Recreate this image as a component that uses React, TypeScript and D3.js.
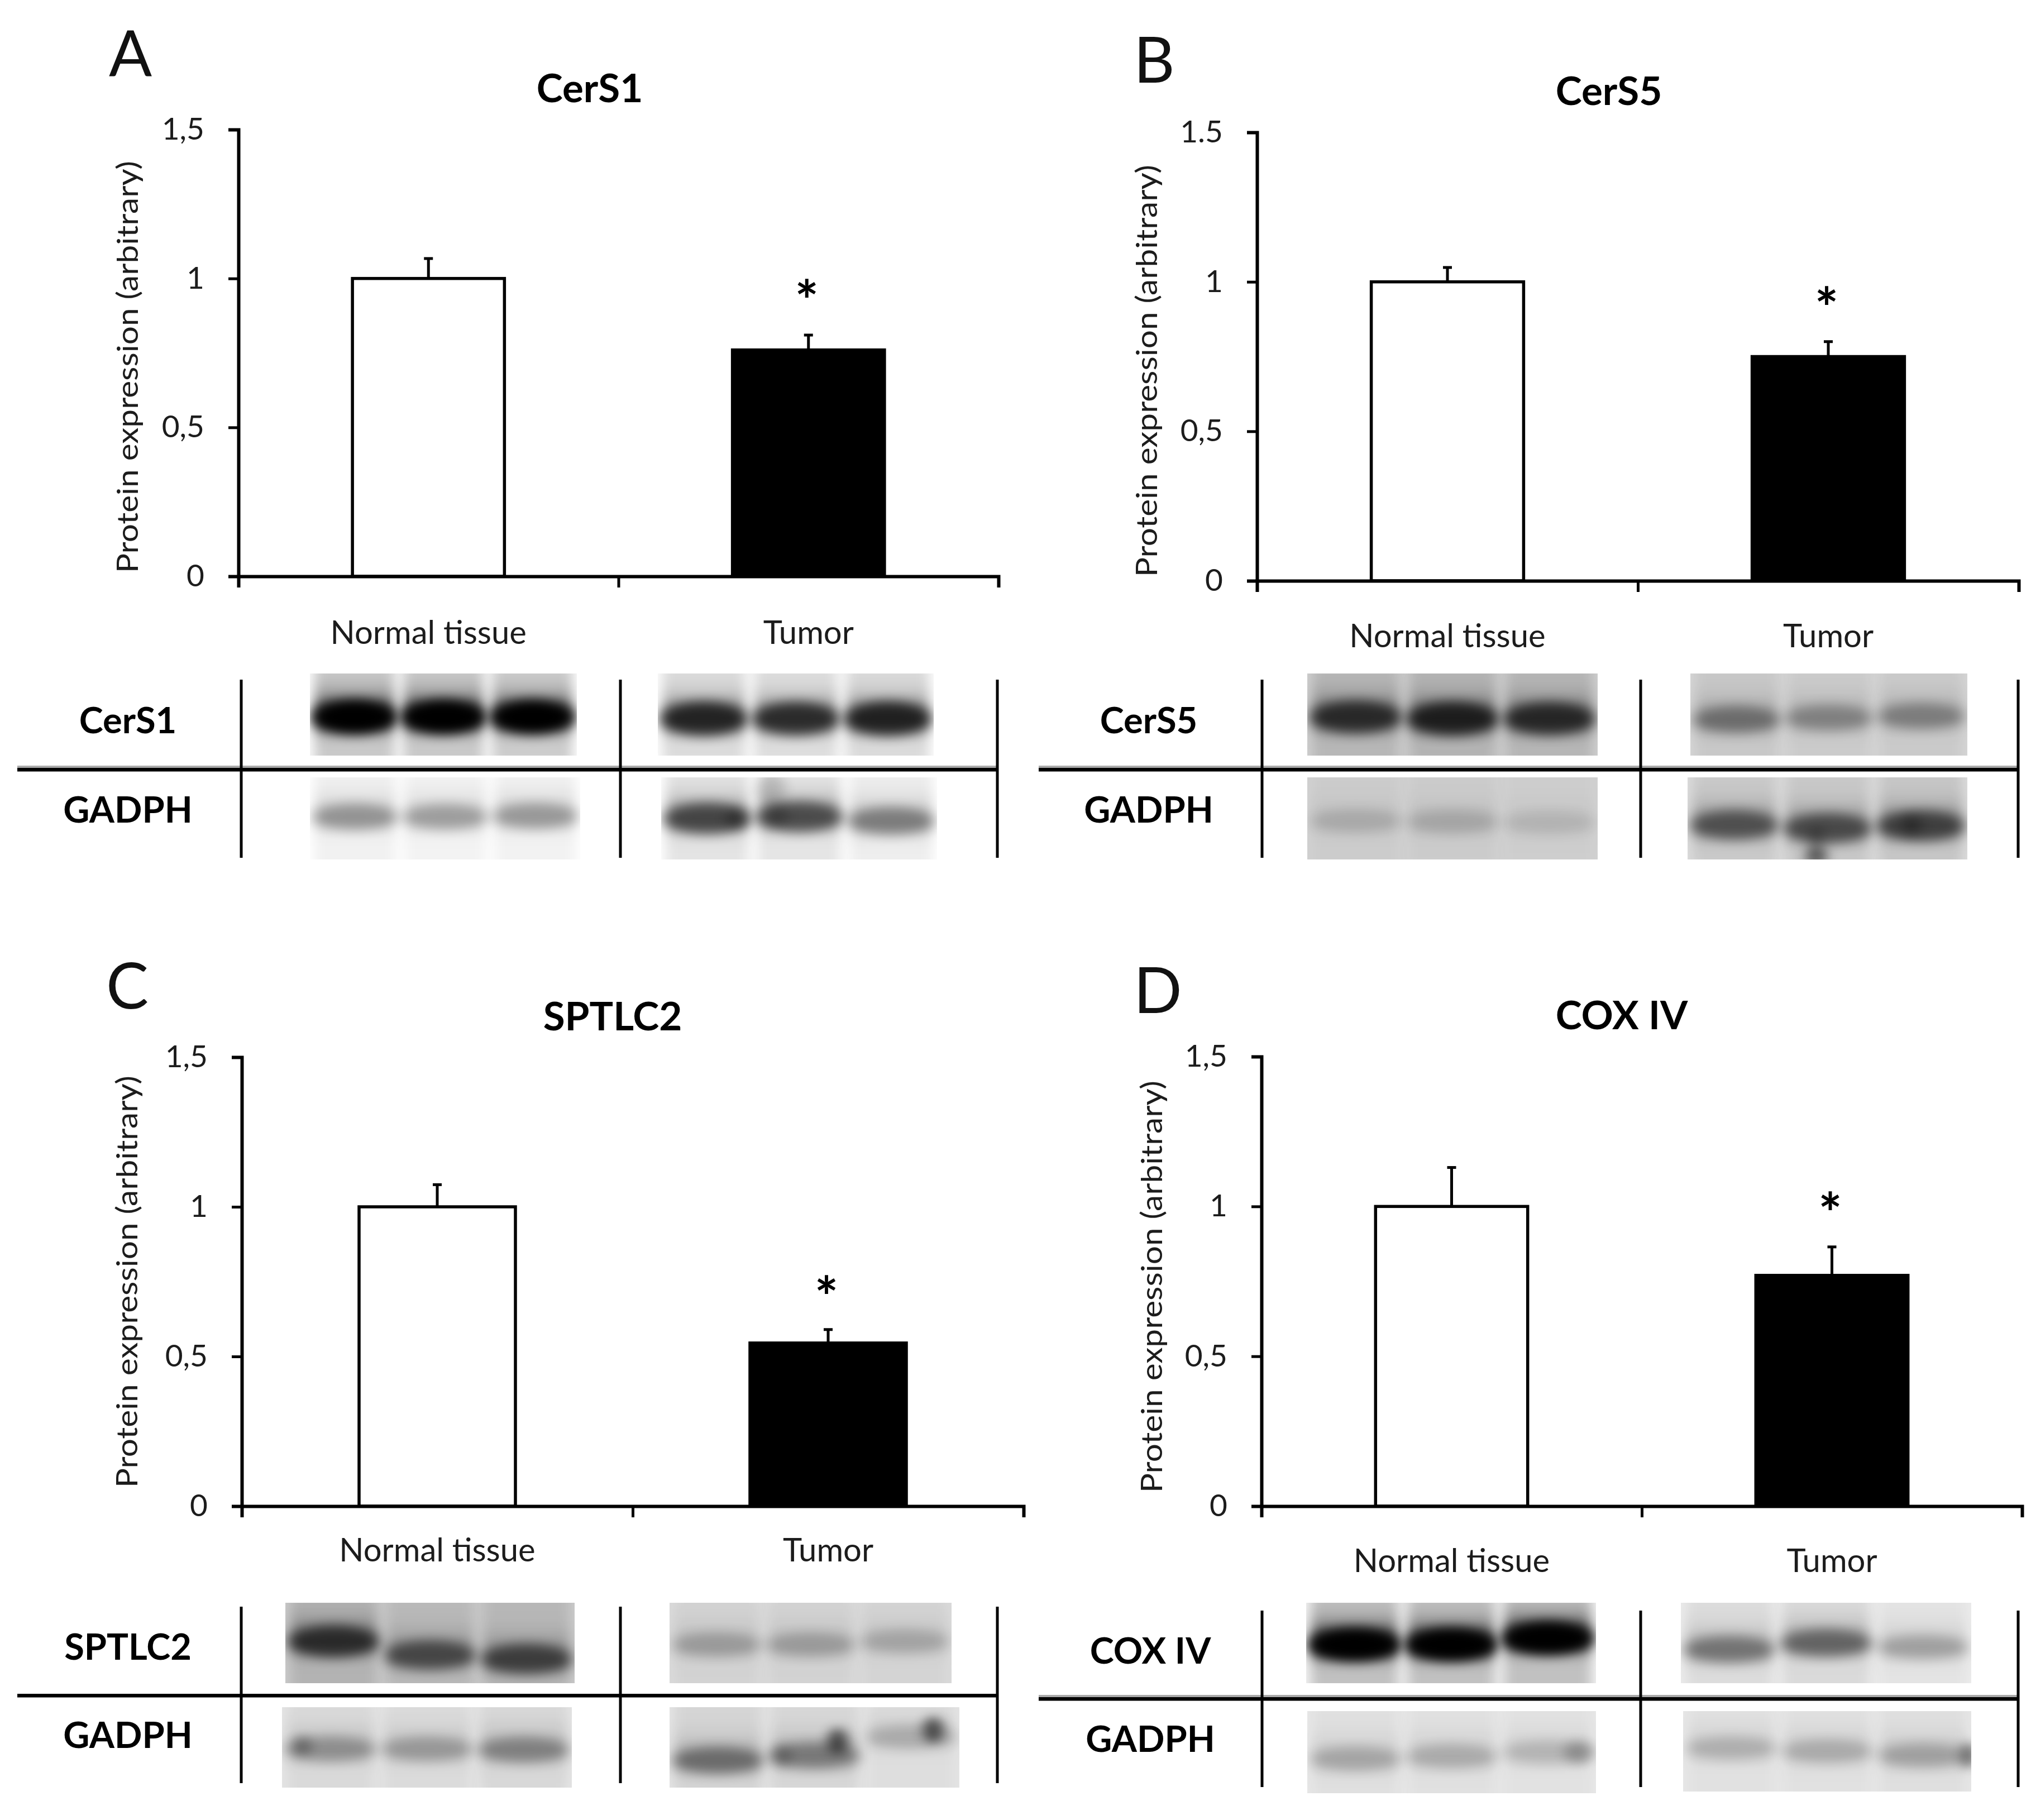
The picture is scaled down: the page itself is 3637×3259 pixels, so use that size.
import React from 'react';
import * as d3 from 'd3';

const svgWidth = 3637;
const svgHeight = 3259;
const fontFamily = 'Lato, Carlito, sans-serif';
const ink = '#1c1c1c';

const categories = ['Normal tissue', 'Tumor'];
const lanes = ['a', 'b', 'c'];
const yTickValues = [0, 0.5, 1, 1.5];

const cers1Values = [1, 0.76];
const cers1Errors = [0.067, 0.05];
const cers1Star = 0.966;
const cers5Values = [1, 0.75];
const cers5Errors = [0.048, 0.05];
const cers5Star = 0.953;
const sptlc2Values = [1, 0.545];
const sptlc2Errors = [0.074, 0.045];
const sptlc2Star = 0.739;
const coxValues = [1, 0.77];
const coxErrors = [0.13, 0.095];
const coxStar = 1.017;

const commaLabels = ['0', '0,5', '1', '1,5'];
const mixedLabels = ['0', '0,5', '1', '1.5'];

// blot readings, order: target normal, target tumor, GADPH normal, GADPH tumor
const cers1BandInk = [[1.5, 1.5, 1.4], [0.98, 0.92, 1], [0.38, 0.34, 0.36], [0.76, 0.72, 0.48]];
const cers1BandPos = [[0.53, 0.53, 0.53], [0.55, 0.55, 0.55], [0.48, 0.48, 0.47], [0.5, 0.48, 0.53]];
const cers1Haze = [0, 0, 0, 0];
const cers1Spots = [[], [], [], [[0.4, 0.14, 0.05, 0.2, 0.16], [0.27, 0.5, 0.035, 0.12, 0.3], [0.42, 0.47, 0.04, 0.12, 0.22]]];

const cers5BandInk = [[0.88, 0.98, 0.9], [0.46, 0.36, 0.38], [0.16, 0.18, 0.12], [0.64, 0.68, 0.74]];
const cers5BandPos = [[0.53, 0.55, 0.55], [0.56, 0.54, 0.52], [0.53, 0.54, 0.55], [0.58, 0.62, 0.59]];
const cers5Haze = [0.18, 0.16, 0.18, 0.13];
const cers5Spots = [[], [], [], [[0.46, 0.97, 0.04, 0.12, 0.5], [0.46, 0.78, 0.025, 0.2, 0.25], [0.8, 0.58, 0.035, 0.12, 0.3]]];

const sptlc2BandInk = [[0.86, 0.66, 0.72], [0.26, 0.26, 0.22], [0.34, 0.3, 0.4], [0.5, 0.44, 0.22]];
const sptlc2BandPos = [[0.48, 0.65, 0.7], [0.52, 0.52, 0.48], [0.52, 0.52, 0.53], [0.66, 0.6, 0.37]];
const sptlc2Haze = [0.2, 0.14, 0.1, 0.1];
const sptlc2Spots = [[], [], [[0.07, 0.48, 0.03, 0.12, 0.3]], [[0.58, 0.42, 0.035, 0.16, 0.6], [0.91, 0.28, 0.035, 0.16, 0.6], [0.39, 0.6, 0.03, 0.13, 0.22]]];

const coxBandInk = [[1.5, 1.5, 1.5], [0.48, 0.56, 0.28], [0.25, 0.23, 0.19], [0.21, 0.23, 0.27]];
const coxBandPos = [[0.52, 0.52, 0.44], [0.58, 0.5, 0.55], [0.58, 0.55, 0.5], [0.46, 0.5, 0.55]];
const coxHaze = [0.04, 0.07, 0.09, 0.09];
const coxSpots = [[], [], [[0.94, 0.5, 0.05, 0.14, 0.22]], [[0.99, 0.55, 0.025, 0.16, 0.5]]];

const panels = [
  {
    letter: 'A', letterX: 195, letterY: 136, title: 'CerS1', titleX: 1056, titleY: 183,
    values: cers1Values, errors: cers1Errors, star: cers1Star, tickLabels: commaLabels,
    left: 427, right: 1788, top: 232, bottom: 1032, axisLabelX: 229, axisLabelMid: 657, categoryY: 1153,
    rowLabels: ['CerS1', 'GADPH'], rowLabelX: 229, rowLabelY: [1313, 1473],
    ruleLeft: 31, ruleRight: 1786, ruleY: 1378, ruleShade: true,
    lineX: [432, 1111, 1786], lineTop: 1217, lineBottom: 1536,
    boxes: [[555, 1206, 1033, 1353], [1178, 1206, 1672, 1353], [555, 1392, 1039, 1539], [1184, 1392, 1678, 1539]],
    bandInk: cers1BandInk, bandPos: cers1BandPos, haze: cers1Haze, spots: cers1Spots,
  },
  {
    letter: 'B', letterX: 2030, letterY: 148, title: 'CerS5', titleX: 2881, titleY: 188,
    values: cers5Values, errors: cers5Errors, star: cers5Star, tickLabels: mixedLabels,
    left: 2251, right: 3615, top: 237, bottom: 1040, axisLabelX: 2054, axisLabelMid: 664, categoryY: 1159,
    rowLabels: ['CerS5', 'GADPH'], rowLabelX: 2057, rowLabelY: [1313, 1473],
    ruleLeft: 1860, ruleRight: 3614, ruleY: 1378, ruleShade: true,
    lineX: [2260, 2938, 3614], lineTop: 1217, lineBottom: 1536,
    boxes: [[2341, 1206, 2861, 1353], [3027, 1206, 3523, 1353], [2341, 1392, 2861, 1539], [3022, 1392, 3523, 1539]],
    bandInk: cers5BandInk, bandPos: cers5BandPos, haze: cers5Haze, spots: cers5Spots,
  },
  {
    letter: 'C', letterX: 190, letterY: 1806, title: 'SPTLC2', titleX: 1097, titleY: 1845,
    values: sptlc2Values, errors: sptlc2Errors, star: sptlc2Star, tickLabels: commaLabels,
    left: 433, right: 1833, top: 1893, bottom: 2697, axisLabelX: 228, axisLabelMid: 2295, categoryY: 2796,
    rowLabels: ['SPTLC2', 'GADPH'], rowLabelX: 229, rowLabelY: [2972, 3130],
    ruleLeft: 31, ruleRight: 1786, ruleY: 3036, ruleShade: false,
    lineX: [432, 1111, 1786], lineTop: 2877, lineBottom: 3193,
    boxes: [[511, 2870, 1029, 3014], [1199, 2870, 1704, 3014], [505, 3057, 1024, 3201], [1199, 3057, 1718, 3201]],
    bandInk: sptlc2BandInk, bandPos: sptlc2BandPos, haze: sptlc2Haze, spots: sptlc2Spots,
  },
  {
    letter: 'D', letterX: 2030, letterY: 1814, title: 'COX IV', titleX: 2904, titleY: 1843,
    values: coxValues, errors: coxErrors, star: coxStar, tickLabels: commaLabels,
    left: 2259, right: 3621, top: 1892, bottom: 2697, axisLabelX: 2063, axisLabelMid: 2304, categoryY: 2815,
    rowLabels: ['COX IV', 'GADPH'], rowLabelX: 2060, rowLabelY: [2979, 3137],
    ruleLeft: 1860, ruleRight: 3614, ruleY: 3042, ruleShade: true,
    lineX: [2260, 2938, 3614], lineTop: 2884, lineBottom: 3200,
    boxes: [[2339, 2870, 2858, 3014], [3010, 2870, 3530, 3014], [2341, 3064, 2858, 3211], [3014, 3064, 3530, 3208]],
    bandInk: coxBandInk, bandPos: coxBandPos, haze: coxHaze, spots: coxSpots,
  },
];

// smear of a lane on the membrane, peaks around the band and trails off both ways
function laneStops(pos: number, amount: number) {
  return d3.range(0, 1.001, 0.05).map((t) => {
    const spread = t < pos ? 0.2 : 0.13;
    const level = 0.14 + 0.35 * Math.exp(-((t - pos) ** 2) / (2 * spread * spread));
    return { offset: t, opacity: Math.min(1, level * amount) };
  });
}

function Blot({ id, box, bandInk, bandPos, haze, spots }: any) {
  const [x0, y0, x1, y1] = box;
  const laneX = d3.scaleBand().domain(lanes).range([x0, x1]).paddingInner(0.1).paddingOuter(0.05);
  const yPos = d3.scaleLinear().domain([0, 1]).range([y0, y1]);
  const xPos = d3.scaleLinear().domain([0, 1]).range([x0, x1]);
  const bw = laneX.bandwidth();
  const h = y1 - y0;

  return (
    <g clipPath={`url(#${id}-clip)`}>
      <defs>
        <clipPath id={`${id}-clip`}>
          <rect x={x0} y={y0} width={x1 - x0} height={h} />
        </clipPath>
        {lanes.map((lane, i) => (
          <linearGradient key={lane} id={`${id}-${lane}`} x1="0" y1="0" x2="0" y2="1">
            {laneStops(bandPos[i], bandInk[i]).map((s, j) => (
              <stop key={j} offset={s.offset} stopColor="#000" stopOpacity={s.opacity} />
            ))}
          </linearGradient>
        ))}
      </defs>
      <rect x={x0} y={y0} width={x1 - x0} height={h} fill="#000" opacity={haze} />
      {lanes.map((lane) => (
        <rect
          key={lane}
          x={laneX(lane)}
          y={y0}
          width={bw}
          height={h}
          fill={`url(#${id}-${lane})`}
          filter="url(#laneBlur)"
        />
      ))}
      {lanes.map((lane, i) => (
        <ellipse
          key={lane}
          cx={laneX(lane)! + bw / 2}
          cy={yPos(bandPos[i])}
          rx={bw * 0.52}
          ry={h * (0.13 + 0.08 * Math.min(1, bandInk[i]))}
          fill="#000"
          opacity={Math.min(1, bandInk[i] * 0.75)}
          filter="url(#coreBlur)"
        />
      ))}
      {spots.map(([fx, fy, rx, ry, amount]: number[], i: number) => (
        <ellipse
          key={i}
          cx={xPos(fx)}
          cy={yPos(fy)}
          rx={(x1 - x0) * rx}
          ry={h * ry}
          fill="#000"
          opacity={amount}
          filter="url(#spotBlur)"
        />
      ))}
    </g>
  );
}

function Panel({ panel, index }: any) {
  const yAxisRef = React.useRef<SVGGElement>(null);
  const xAxisRef = React.useRef<SVGGElement>(null);

  const y = d3.scaleLinear().domain([0, 1.5]).range([panel.bottom, panel.top]);
  const x = d3
    .scaleBand()
    .domain(categories)
    .range([panel.left, panel.right])
    .paddingInner(0.6)
    .paddingOuter(0.3);
  const xEdges = d3.scaleLinear().domain([0, 2]).range([panel.left, panel.right]);

  React.useEffect(() => {
    const yAxis = d3
      .axisLeft(y)
      .tickValues(yTickValues)
      .tickSize(18)
      .tickPadding(43)
      .tickFormat((_, i) => panel.tickLabels[i]);
    const xAxis = d3.axisBottom(xEdges).tickValues([0, 1, 2]).tickSize(20).tickFormat(() => '');
    const yG = d3.select(yAxisRef.current).call(yAxis as any);
    const xG = d3.select(xAxisRef.current).call(xAxis as any);
    [yG, xG].forEach((g) => {
      g.selectAll('.domain').attr('stroke', '#000').attr('stroke-width', 6);
      g.selectAll('.tick line').attr('stroke', '#000').attr('stroke-width', 5);
    });
    yG.selectAll('.tick text')
      .attr('font-family', fontFamily)
      .attr('font-size', 55)
      .attr('fill', ink);
  }, []);

  return (
    <g>
      <text x={panel.letterX} y={panel.letterY} fontFamily={fontFamily} fontWeight={400} fontSize={114} fill="#111">
        {panel.letter}
      </text>
      <text x={panel.titleX} y={panel.titleY} textAnchor="middle" fontFamily={fontFamily} fontWeight={700} fontSize={71} fill="#000">
        {panel.title}
      </text>
      <text
        transform={`translate(${panel.axisLabelX},${panel.axisLabelMid}) rotate(-90)`}
        textAnchor="middle"
        dy="0.35em"
        fontFamily={fontFamily}
        fontSize={52}
        fill={ink}
        textLength={738}
        lengthAdjust="spacingAndGlyphs"
      >
        Protein expression (arbitrary)
      </text>

      {categories.map((c, i) => {
        const barX = x(c)!;
        const barW = x.bandwidth();
        const cx = barX + barW / 2;
        return (
          <g key={c}>
            <line x1={cx} x2={cx} y1={y(panel.values[i])} y2={y(panel.values[i] + panel.errors[i])} stroke="#000" strokeWidth={5} />
            <line x1={cx - 8} x2={cx + 8} y1={y(panel.values[i] + panel.errors[i])} y2={y(panel.values[i] + panel.errors[i])} stroke="#000" strokeWidth={5} />
            <rect
              x={barX}
              y={y(panel.values[i])}
              width={barW}
              height={panel.bottom - y(panel.values[i])}
              fill={i === 0 ? '#fff' : '#000'}
              stroke="#000"
              strokeWidth={5.5}
            />
            <text x={cx} y={panel.categoryY} textAnchor="middle" fontFamily={fontFamily} fontSize={58} fill={ink}>
              {c}
            </text>
          </g>
        );
      })}
      <text
        x={x(categories[1])! + x.bandwidth() / 2 - 3}
        y={y(panel.star) + 58}
        textAnchor="middle"
        fontFamily={fontFamily}
        fontWeight={700}
        fontSize={100}
        fill="#000"
      >
        *
      </text>

      <g ref={yAxisRef} transform={`translate(${panel.left},0)`} />
      <g ref={xAxisRef} transform={`translate(0,${panel.bottom})`} />

      {panel.boxes.map((box: number[], i: number) => (
        <Blot
          key={i}
          id={`blot-${index}-${i}`}
          box={box}
          bandInk={panel.bandInk[i]}
          bandPos={panel.bandPos[i]}
          haze={panel.haze[i]}
          spots={panel.spots[i]}
        />
      ))}

      {panel.ruleShade && (
        <rect x={panel.ruleLeft} y={panel.ruleY - 7} width={panel.ruleRight - panel.ruleLeft} height={4} fill="#aaa" />
      )}
      <rect x={panel.ruleLeft} y={panel.ruleY - 3} width={panel.ruleRight - panel.ruleLeft} height={6.5} fill="#000" />
      {panel.lineX.map((lx: number) => (
        <line key={lx} x1={lx} x2={lx} y1={panel.lineTop} y2={panel.lineBottom} stroke="#000" strokeWidth={5} />
      ))}
      {panel.rowLabels.map((label: string, i: number) => (
        <text
          key={label}
          x={panel.rowLabelX}
          y={panel.rowLabelY[i]}
          textAnchor="middle"
          fontFamily={fontFamily}
          fontWeight={700}
          fontSize={65}
          fill="#000"
        >
          {label}
        </text>
      ))}
    </g>
  );
}

export default function App() {
  return (
    <svg
      width={svgWidth}
      height={svgHeight}
      style={{ position: 'absolute', left: 0, top: 0, display: 'block', background: '#fff' }}
    >
      <defs>
        <filter id="laneBlur" x="-30%" y="-5%" width="160%" height="110%">
          <feGaussianBlur stdDeviation="11 0" />
        </filter>
        <filter id="coreBlur" x="-40%" y="-100%" width="180%" height="300%">
          <feGaussianBlur stdDeviation="12 10" />
        </filter>
        <filter id="spotBlur" x="-100%" y="-100%" width="300%" height="300%">
          <feGaussianBlur stdDeviation="11 9" />
        </filter>
      </defs>
      {panels.map((panel, i) => (
        <Panel key={panel.letter} panel={panel} index={i} />
      ))}
    </svg>
  );
}
